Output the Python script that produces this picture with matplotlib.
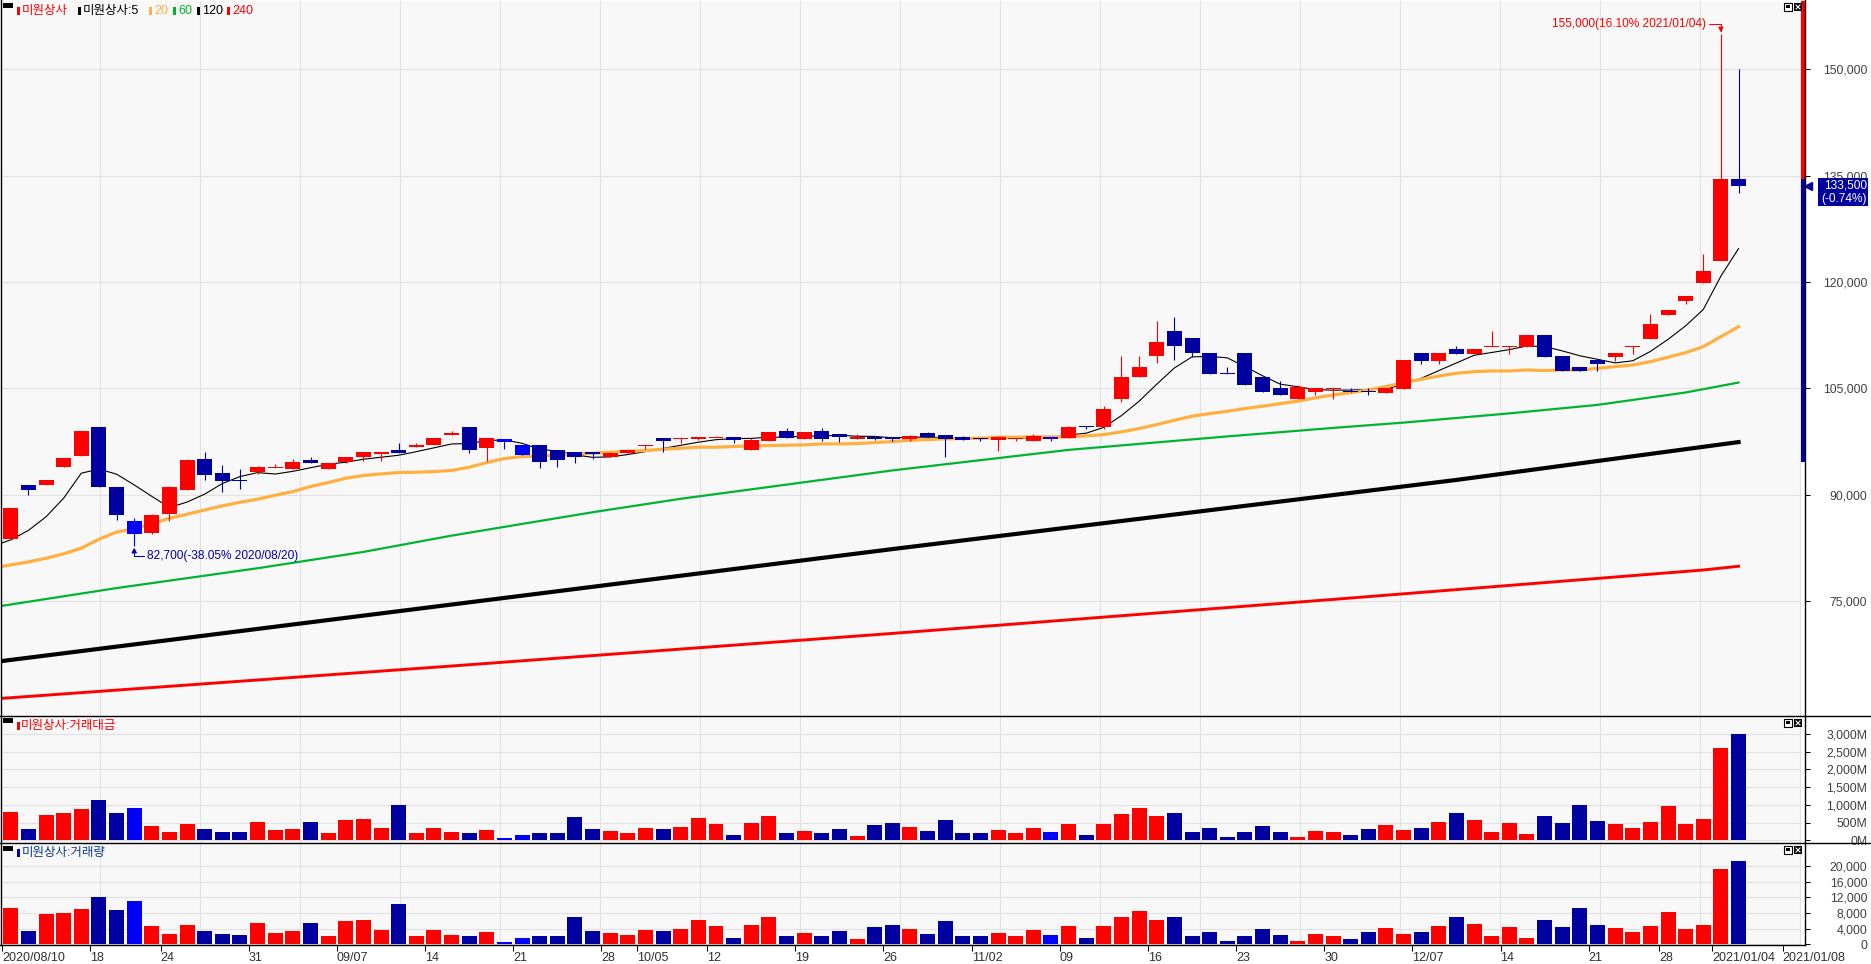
import numpy as np
import pandas as pd
import matplotlib
matplotlib.use('Agg')
import matplotlib.pyplot as plt
from matplotlib.patches import Rectangle
from matplotlib.lines import Line2D
from matplotlib.transforms import blended_transform_factory

plt.rcParams['font.family'] = ['Liberation Sans', 'Noto Sans CJK KR', 'DejaVu Sans']

# 미원상사 daily candles, 2020/08/10 .. 2021/01/05
opens = [83700, 91400, 91400, 93950, 95500, 99550, 91100, 86300, 84600, 87300,
         90650, 95000, 93050, 92050, 93240, 93850, 93570, 94890, 93670, 94600,
         95360, 95780, 96250, 96770, 97050, 98450, 99550, 96500, 97850, 97000,
         97000, 96300, 96020, 96020, 95360, 95880, 96950, 97950, 97900, 97850,
         98050, 98090, 96300, 97570, 98980, 97900, 98980, 98560, 97900, 98180,
         98080, 97900, 98650, 98460, 98130, 97940, 97750, 97940, 97610, 98130,
         97940, 99730, 99500, 103450, 106550, 109510, 113130, 112100, 110030, 107100,
         110030, 106640, 105040, 103450, 104430, 104950, 104550, 104550, 104380, 104940,
         109980, 108900, 110500, 109880, 110900, 110900, 110870, 112520, 109550, 108000,
         108990, 109460, 110900, 112000, 115390, 117360, 119900, 122900, 134500]
highs = [88100, 91400, 92100, 95170, 99000, 99550, 91100, 86700, 87250, 91200,
         95000, 96000, 94230, 93570, 94090, 94330, 95030, 95310, 94470, 95310,
         96020, 96000, 97280, 97280, 98000, 98950, 99550, 98000, 97850, 97000,
         97000, 96300, 96020, 96020, 96070, 96300, 97000, 97950, 97950, 98090,
         98270, 98090, 97950, 98840, 99400, 98840, 99400, 98560, 98560, 98180,
         98080, 98460, 98790, 98460, 98320, 97940, 98320, 97990, 98600, 98130,
         99730, 99730, 102550, 109610, 109610, 114540, 115110, 112100, 110030, 108010,
         110030, 106780, 105980, 105510, 105040, 105000, 105090, 105090, 105090, 108990,
         109980, 109980, 110970, 110500, 113080, 110950, 112520, 112520, 109550, 108000,
         108990, 109980, 110950, 115480, 116000, 118020, 123950, 155000, 150000]
lows = [83700, 89900, 91400, 93950, 95500, 91000, 86400, 82700, 84500, 86300,
        90650, 92000, 90420, 90820, 92900, 93850, 93570, 94510, 93670, 94420,
        94700, 94750, 95920, 96770, 97050, 98450, 95920, 94750, 96440, 95600,
        93800, 93950, 94510, 94980, 95360, 95740, 96440, 96070, 97330, 97710,
        98050, 97330, 96300, 97570, 98040, 97900, 97620, 97480, 97900, 97660,
        97520, 97610, 98130, 95260, 97750, 97520, 96200, 97520, 97610, 97520,
        97940, 99310, 99310, 103070, 106550, 108520, 108950, 109420, 106970, 107050,
        105420, 104430, 104010, 103450, 104010, 103440, 104500, 104000, 104380, 104940,
        108470, 108470, 109880, 109880, 110900, 109880, 110870, 109460, 107480, 107480,
        107480, 108900, 109880, 112000, 115390, 116890, 119900, 122900, 132500]
closes = [88100, 90700, 92100, 95170, 99000, 91000, 87100, 84500, 87100, 91100,
          94900, 92700, 91970, 92000, 93900, 93900, 94600, 94510, 94470, 95310,
          96020, 96000, 95920, 97000, 98000, 98750, 96300, 98000, 97480, 95600,
          94650, 94890, 95360, 95740, 95920, 96300, 97000, 97570, 97950, 98090,
          98090, 97760, 97710, 98840, 98040, 98840, 97900, 98180, 98180, 97900,
          97900, 98320, 98130, 97900, 97750, 97800, 98130, 97990, 98320, 97900,
          99590, 99500, 102080, 106640, 108050, 111580, 110920, 109930, 106970, 107050,
          105420, 104430, 104010, 105140, 105040, 105000, 104500, 104500, 105090, 108990,
          108900, 109980, 109880, 110500, 110950, 110950, 112520, 109460, 107480, 107480,
          108470, 109980, 110950, 114070, 116000, 118020, 121500, 134500, 133500]
# r = up (red), b = down (navy), c = light blue
candle_col = ('rbrrrbbcrr' 'rbbbrrrbrr' 'rrbrrrbrcc' 'bbbbrrrbrr' 'rbrrbrbbrb'
              'brbbbbrrrc' 'rbrrrrbbbb' 'bbbrrrbbrr' 'brbrrrrbbb' 'brrrrrrrb')

prev_closes = [83900, 84000, 82500, 82000, 81400]  # last closes before 08/10

# moving averages, index -1 .. 98
ma20 = [79650, 80070, 80500, 81010, 81630, 82430, 83700, 84700, 85200, 85860,
        86660, 87220, 87830, 88400, 88920, 89340, 89900, 90420, 91130, 91690,
        92300, 92680, 92910, 93100, 93150, 93240, 93400, 93850, 94510, 95080,
        95360, 95450, 95550, 95740, 95830, 95970, 96110, 96210, 96400, 96530,
        96680, 96680, 96770, 96860, 96910, 96960, 97000, 97150, 97150, 97190,
        97330, 97470, 97660, 97750, 97850, 97900, 97940, 98080, 98080, 98130,
        98130, 98130, 98270, 98460, 98840, 99310, 99870, 100480, 101050, 101420,
        101750, 102130, 102460, 102830, 103170, 103640, 104050, 104380, 104760, 105230,
        105790, 106260, 106730, 107110, 107340, 107440, 107440, 107580, 107490, 107580,
        107580, 107810, 108050, 108280, 108750, 109370, 110020, 110870, 112280, 113690]
ma60_idx = [-1, 6, 14, 20, 25, 33, 38, 50, 60, 69, 75, 79, 85, 90, 95, 98]
ma60 = [74100, 76800, 79600, 81900, 84200, 87500, 89400, 93400, 96300, 98200,
        99400, 100150, 101450, 102650, 104400, 105800]
ma120_idx = [-1, 27, 50, 82, 98]
ma120 = [66350, 75100, 82300, 92060, 97400]
ma240_idx = [-1, 25, 50, 75, 96, 98]
ma240 = [61150, 65800, 70400, 75200, 79350, 79880]

volume = [9280, 3400, 7740, 8000, 9020, 12080, 8770, 11060, 4680, 2640,
          4940, 3400, 2640, 2380, 5450, 2890, 3400, 5450, 2130, 5960,
          6210, 3660, 10300, 2130, 3660, 2380, 2130, 3150, 600, 1620,
          2130, 2130, 6980, 3400, 2890, 2380, 3660, 3400, 3920, 6210,
          4670, 1530, 4930, 6970, 2120, 2810, 2120, 3320, 1350, 4420,
          4930, 3910, 2730, 5950, 2120, 2120, 2890, 2120, 3650, 2380,
          4670, 1610, 4670, 6970, 8510, 6210, 6970, 2120, 3140, 840,
          2120, 3910, 2380, 840, 2630, 2120, 1350, 3140, 4160, 2630,
          3140, 4670, 6970, 5190, 2120, 4420, 1610, 6210, 4420, 9270,
          4930, 4160, 3140, 4670, 8250, 3910, 4930, 19230, 21280]
value_m = [792, 311, 708, 764, 877, 1132, 764, 906, 396, 226,
           453, 311, 226, 226, 509, 283, 311, 509, 198, 566,
           594, 340, 991, 198, 340, 226, 198, 283, 57, 142,
           198, 198, 651, 311, 255, 198, 340, 311, 368, 623,
           458, 150, 478, 685, 209, 276, 209, 326, 133, 433,
           483, 383, 269, 582, 208, 208, 283, 208, 358, 233,
           462, 160, 471, 736, 914, 689, 781, 235, 341, 90,
           228, 412, 248, 88, 275, 222, 142, 328, 436, 282,
           344, 511, 768, 571, 236, 490, 180, 689, 479, 998,
           536, 457, 347, 528, 954, 460, 595, 2603, 3000]

tick_idx = [0, 5, 9, 14, 19, 24, 29, 34, 36, 40, 45, 50, 55, 60, 65, 70, 75, 80,
            85, 90, 94, 97, 101]
tick_labels = ['2020/08/10', '18', '24', '31', '09/07', '14', '21', '28', '10/05',
               '12', '19', '26', '11/02', '09', '16', '23', '30', '12/07', '14',
               '21', '28', '2021/01/04', '2021/01/08']
price_ticks = [75000, 90000, 105000, 120000, 135000, 150000]
value_ticks = [0, 500, 1000, 1500, 2000, 2500, 3000]
volume_ticks = [0, 4000, 8000, 12000, 16000, 20000]

hi_price, hi_idx, hi_date = 155000, 97, '2021/01/04'
lo_price, lo_idx, lo_date = 82700, 7, '2020/08/20'
last_close, last_chg = 133500, -0.74
bar_top_price, bar_low_price = 134500, 94600

RED = '#ff0000'
NAVY = '#0000a0'
LBLUE = '#0000ff'
GRID = '#e2e2e2'
FACE = '#f8f8f8'
TXT = '#404040'
col_map = {'r': RED, 'b': NAVY, 'c': LBLUE}

W, H = 1871, 964
SLOT, X0 = 17.63, 10.8  # px per candle, px of first candle centre


def main():
    fig = plt.figure(figsize=(W / 100, H / 100), dpi=100)
    fig.patch.set_facecolor('white')

    def box(x0, y0, x1, y1):
        return [x0 / W, 1 - y1 / H, (x1 - x0) / W, (y1 - y0) / H]

    def frect(x0, y0, x1, y1, **kw):
        fig.add_artist(Rectangle((x0 / W, 1 - y1 / H), (x1 - x0) / W, (y1 - y0) / H,
                                 transform=fig.transFigure, **kw))

    def fline(xs, ys, **kw):
        fig.add_artist(Line2D([x / W for x in xs], [1 - y / H for y in ys],
                              transform=fig.transFigure, **kw))

    def ftext(x, y, s, **kw):
        fig.text(x / W, 1 - y / H, s, **kw)

    ax1 = fig.add_axes(box(1, 1, 1804.5, 715.5))
    ax2 = fig.add_axes(box(1, 716, 1804.5, 842.5))
    ax3 = fig.add_axes(box(1, 843, 1804.5, 944.5))

    xlim = ((1 - X0) / SLOT, (1804.5 - X0) / SLOT)
    ax1.set_ylim(58820, 159640)
    ax2.set_ylim(-62, 3508)
    ax3.set_ylim(-50, 25874)

    for ax, ticks, fmt in [(ax1, price_ticks, '{:,}'), (ax2, value_ticks, '{:,}M'),
                           (ax3, volume_ticks, '{:,}')]:
        ax.set_facecolor(FACE)
        ax.set_xlim(*xlim)
        for s in ax.spines.values():
            s.set_visible(False)
        ax.set_axisbelow(True)
        ax.yaxis.tick_right()
        ax.set_yticks(ticks)
        ax.set_yticklabels([fmt.format(t) for t in ticks])
        for lab in ax.get_yticklabels():
            lab.set_ha('right')
        ax.tick_params(axis='y', direction='out', length=3.6, width=0.75, pad=41.5,
                       labelsize=8.8, labelcolor=TXT)
        ax.yaxis.grid(True, color=GRID, lw=0.8)
        for px in range(100, 1801, 100):
            ax.axvline((px - X0) / SLOT, color=GRID, lw=0.8, zorder=0.5)
        xa = (1801 - 1) / 1803.5
        ax.add_patch(Rectangle((xa, 0), 1 - xa, 1, transform=ax.transAxes,
                               facecolor='white', lw=0, zorder=0.6))
    for ax in (ax1, ax2):
        ax.set_xticks([])

    x = np.arange(len(closes))
    o = np.array(opens, float)
    c = np.array(closes, float)
    cols = [col_map[k] for k in candle_col]

    # moving averages
    ma_x = np.arange(-1, len(closes))
    ma5 = pd.Series(prev_closes + closes, dtype=float).rolling(5).mean().values[4:]
    ax1.plot(ma_x, ma5, color='black', lw=0.8, zorder=2)
    ax1.plot(ma_x, ma20, color='#ffb040', lw=2.3, zorder=2)
    ax1.plot(ma60_idx, ma60, color='#00b432', lw=1.6, zorder=2)
    ax1.plot(ma120_idx, ma120, color='black', lw=3.0, zorder=2)
    ax1.plot(ma240_idx, ma240, color=RED, lw=2.1, zorder=2)

    # candles
    ax1.vlines(x, lows, highs, colors=cols, lw=0.8, zorder=3)
    body_h = np.maximum(np.abs(c - o), 150)
    body_lo = np.minimum(o, c) - (body_h - np.abs(c - o)) / 2
    ax1.bar(x, body_h, bottom=body_lo, width=0.85, color=cols, lw=0, zorder=3)

    # high / low marks
    arrow_kw = dict(arrowstyle='-|>,head_length=0.35,head_width=0.18', lw=0.75,
                    shrinkA=0, shrinkB=1, connectionstyle='angle,angleA=0,angleB=90,rad=0')
    ax1.annotate('{:,}({:.2f}% {})'.format(hi_price, (hi_price / last_close - 1) * 100, hi_date),
                 xy=(hi_idx, hi_price), xytext=(-15, 10), textcoords='offset pixels',
                 ha='right', va='center', color=RED, fontsize=8.6, zorder=6,
                 arrowprops=dict(color=RED, relpos=(1, 0.5), **arrow_kw))
    ax1.annotate('{:,}({:.2f}% {})'.format(lo_price, (lo_price / last_close - 1) * 100, lo_date),
                 xy=(lo_idx, lo_price), xytext=(13, -10), textcoords='offset pixels',
                 ha='left', va='center', color=NAVY, fontsize=8.6, zorder=6,
                 arrowprops=dict(color=NAVY, relpos=(0, 0.5), **arrow_kw))

    # right edge price bar + current price marker
    tr = blended_transform_factory(ax1.transAxes, ax1.transData)
    xa = (1801 - 1) / 1803.5
    ax1.add_patch(Rectangle((xa, bar_top_price), 1 - xa, 159640 - bar_top_price,
                            transform=tr, facecolor=RED, lw=0, zorder=4))
    ax1.add_patch(Rectangle((xa, bar_low_price), 1 - xa, bar_top_price - bar_low_price,
                            transform=tr, facecolor=NAVY, lw=0, zorder=4))
    ax1.plot([1.0019], [last_close], marker='<', ms=5.5, color=NAVY, transform=tr,
             clip_on=False, zorder=6)

    # volume panels
    ax2.bar(x, value_m, width=0.85, color=cols, lw=0, zorder=3)
    ax3.bar(x, volume, width=0.85, color=cols, lw=0, zorder=3)

    ax3.set_xticks(np.array(tick_idx) - 0.5)
    ax3.set_xticklabels(tick_labels)
    for lab in ax3.get_xticklabels():
        lab.set_ha('left')
    ax3.tick_params(axis='x', direction='out', length=4.5, width=0.75, pad=1,
                    labelsize=9, labelcolor='#303030')

    # frame lines
    fline([0.5, 0.5], [0, 945], color='black', lw=1.0)
    fline([1804.5, 1804.5], [0, 945], color='black', lw=1.0)
    fline([0, W], [715.5, 715.5], color='black', lw=1.0)
    fline([0, W], [842.5, 842.5], color='black', lw=1.0)
    fline([0, 1805], [944.5, 944.5], color='black', lw=1.0)

    # current price box
    frect(1818, 178, 1868, 206, facecolor=NAVY, lw=0, zorder=5)
    ftext(1867, 185, '{:,}'.format(last_close), color='white', ha='right', va='center',
          fontsize=8.6, zorder=6)
    ftext(1867, 199, '({:.2f}%)'.format(last_chg), color='white', ha='right', va='center',
          fontsize=8.6, zorder=6)

    # panel titles
    frect(3, 3, 13, 8, facecolor='black', lw=0)
    legend = [(17, '미원상사', RED), (78, '미원상사:5', 'black'), (149, '20', '#ffb040'),
              (173, '60', '#00b432'), (197, '120', 'black'), (227, '240', RED)]
    for bx, label, colr in legend:
        frect(bx, 7, bx + 2.5, 15, facecolor=colr, lw=0)
        ftext(bx + 5, 11, label, color=colr, ha='left', va='center', fontsize=9)
    frect(3, 718, 13, 723, facecolor='black', lw=0)
    frect(17, 722, 19.5, 730, facecolor=RED, lw=0)
    ftext(21, 726, '미원상사:거래대금', color=RED, ha='left', va='center', fontsize=9)
    frect(3, 846, 13, 851, facecolor='black', lw=0)
    frect(17, 849, 19.5, 857, facecolor=NAVY, lw=0)
    ftext(22, 853, '미원상사:거래량', color='#0a3c8c', ha='left', va='center', fontsize=9)

    # window icons
    for y0 in (3, 719, 846):
        frect(1784, y0, 1792, y0 + 8, facecolor='white', edgecolor='black', lw=0.8)
        frect(1786, y0 + 2, 1790, y0 + 5, facecolor='black', lw=0)
        frect(1794, y0, 1802, y0 + 8, facecolor='black', lw=0)
        fline([1796, 1800], [y0 + 2, y0 + 6], color='white', lw=0.8)
        fline([1796, 1800], [y0 + 6, y0 + 2], color='white', lw=0.8)

    fig.savefig('out.png', dpi=100, facecolor='white')


if __name__ == "__main__":
    main()
